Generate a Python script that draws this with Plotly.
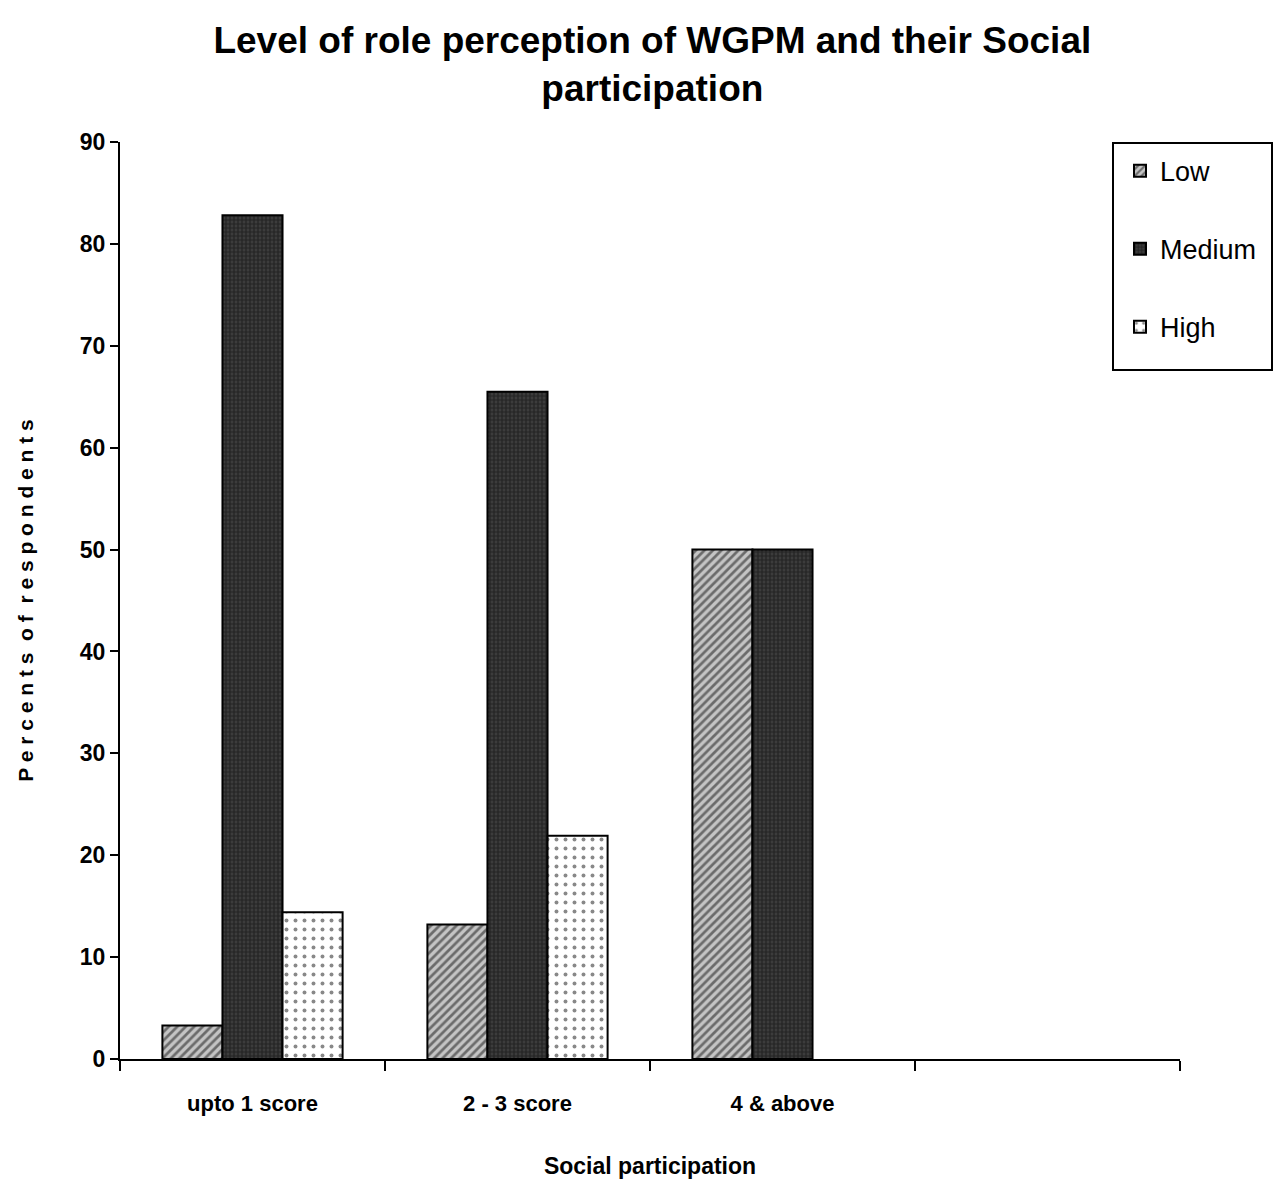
import plotly.graph_objects as go

categories = ["upto 1 score", "2 - 3 score", "4 & above", " "]
low = [3.3, 13.2, 50.0]
medium = [82.8, 65.5, 50.0]
high = [14.4, 21.9, None]
series_names = ["Low", "Medium", "High"]

FONT = "Liberation Sans, Arial, sans-serif"

fig = go.Figure()
styles = [
    dict(bg="#c4c4c4", fg="#111111", shape="/", size=6, solidity=0.45),
    dict(bg="#3c3c3c", fg="#0a0a0a", shape="+", size=4, solidity=0.5),
    dict(bg="#ffffff", fg="#111111", shape=".", size=9, solidity=0.15),
]
for i, (name, vals) in enumerate(zip(series_names, [low, medium, high])):
    s = styles[i]
    fig.add_trace(go.Bar(
        name=name,
        x=categories[:3],
        y=vals,
        legendgroup=name,
        marker=dict(
            color=s["bg"],
            line=dict(color="black", width=2),
            pattern=dict(shape=s["shape"], fgcolor=s["fg"], bgcolor=s["bg"],
                         size=s["size"], solidity=s["solidity"], fillmode="overlay"),
        ),
    ))

fig.update_layout(
    width=1281, height=1182,
    paper_bgcolor="white", plot_bgcolor="white",
    barmode="group", bargap=0.32, bargroupgap=0.0,
    margin=dict(l=112, r=109, t=134, b=131, autoexpand=False),
    font=dict(family=FONT, color="black", size=20),
    title=dict(
        text="<b>Level of role perception of WGPM and their Social<br>participation</b>",
        x=0.503, xanchor="center", y=0.962, yanchor="top",
        font=dict(size=37, family=FONT, color="black"),
    ),
    legend=dict(
        x=(1120 - 120) / 1060, xanchor="left", y=0.995, yanchor="top",
        font=dict(size=27, family=FONT, color="black"),
        borderwidth=0, bgcolor="rgba(0,0,0,0)",
        tracegroupgap=40,
    ),
    showlegend=True,
    shapes=[dict(type="rect", xref="paper", yref="paper",
                 x0=(1113 - 120) / 1060, x1=(1272 - 120) / 1060,
                 y0=(1059 - 370) / 917, y1=(1059 - 143) / 917,
                 line=dict(color="black", width=2), fillcolor="rgba(0,0,0,0)",
                 layer="below")],
)

fig.update_xaxes(
    type="category", categoryorder="array", categoryarray=categories,
    range=[-0.5, 3.5], tickson="boundaries", ticks="outside", ticklen=10,
    tickwidth=2, tickcolor="black", automargin=False,
    showline=True, linecolor="black", linewidth=2, showgrid=False,
    tickfont=dict(size=22, family=FONT, color="black"),
    ticklabelstandoff=24,
    title=dict(text="<b>Social participation</b>", standoff=42,
               font=dict(size=23, family=FONT, color="black")),
)
fig.update_xaxes(ticktext=["<b>upto 1 score</b>", "<b>2 - 3 score</b>", "<b>4 & above</b>", " "],
                 tickvals=categories)
fig.update_yaxes(
    range=[0, 90], tickvals=list(range(0, 91, 10)),
    ticktext=[f"<b>{v}</b>" for v in range(0, 91, 10)],
    ticks="outside", ticklen=8, tickwidth=2, tickcolor="black", automargin=False,
    showline=True, linecolor="black", linewidth=2, showgrid=False, zeroline=False,
    tickfont=dict(size=23, family=FONT, color="black"),
    title=dict(text="<b>P e r c e n t s  o f  r e s p o n d e n t s</b>", standoff=40,
               font=dict(size=21, family=FONT, color="black")),
)

fig.write_html("out.html")
